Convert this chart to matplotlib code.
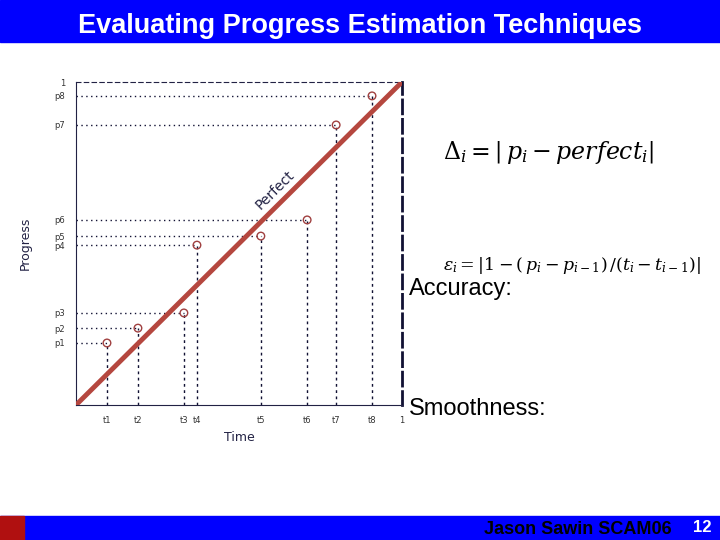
import matplotlib
matplotlib.use("Agg")
import matplotlib.pyplot as plt
from matplotlib.patches import Rectangle

times = [0.095, 0.19, 0.331, 0.371, 0.567, 0.709, 0.798, 0.908]
progress = [0.192, 0.238, 0.285, 0.495, 0.523, 0.573, 0.867, 0.957]
t_labels = ["t1", "t2", "t3", "t4", "t5", "t6", "t7", "t8"]
p_labels = ["p1", "p2", "p3", "p4", "p5", "p6", "p7", "p8"]

plt.rcParams['mathtext.fontset'] = 'dejavuserif'
fig = plt.figure(figsize=(7.2, 5.4), dpi=100)
fig.patch.set_facecolor("white")
blue = "#0000ff"
fig.patches.append(Rectangle((0, 1 - 42/540), 1, 42/540, transform=fig.transFigure, color=blue, zorder=0))
fig.patches.append(Rectangle((0, 0), 1, 24/540, transform=fig.transFigure, color=blue, zorder=0))
fig.patches.append(Rectangle((0, 0), 24/720, 24/540, transform=fig.transFigure, color="#b01010", zorder=1))
fig.text(0.5, 1 - 26/540, "Evaluating Progress Estimation Techniques", ha="center", va="center",
         color="white", fontsize=19.5, fontweight="bold", family="Liberation Sans")
fig.text(0.672, 10/540, "Jason Sawin SCAM06", ha="left", va="center", color="black",
         fontsize=13, fontweight="bold", family="Liberation Sans")
fig.text(0.963, 12/540, "12", ha="left", va="center", color="white",
         fontsize=12, fontweight="bold", family="Liberation Sans")

ax = fig.add_axes([76/720, 1 - 405/540, 326/720, 323/540])
ax.set_xlim(0, 1)
ax.set_ylim(0, 1)
ax.plot([0, 1], [0, 1], color="#b5473f", lw=3.5, zorder=3)
for t, p in zip(times, progress):
    ax.plot([0, t], [p, p], ls=(0, (1, 2.5)), color="#111133", lw=1)
    ax.plot([t, t], [0, p], ls=(0, (2, 2.5)), color="#111133", lw=1)
ax.scatter(times, progress, s=30, facecolors="none", edgecolors="#a04040", lw=1, zorder=4)
ax.text(0.61, 0.665, "Perfect", rotation=45, fontsize=10, color="#222244", ha="center", va="center")
ax.set_xticks(times + [1])
ax.set_xticklabels(t_labels + ["1"], fontsize=6, color="#333333")
ax.set_yticks(progress + [1])
ax.set_yticklabels(p_labels + ["1"], fontsize=6, color="#333333")
ax.tick_params(length=0, pad=8)
for s in ["left", "bottom"]:
    ax.spines[s].set_color("#222244")
ax.spines["top"].set_linestyle((0, (4, 3)))
ax.spines["top"].set_color("#222244")
ax.spines["right"].set_linestyle((0, (5, 2)))
ax.spines["right"].set_linewidth(2)
ax.spines["right"].set_color("#111133")
ax.set_xlabel("Time", fontsize=9, color="#222244")
ax.set_ylabel("Progress", fontsize=9, color="#222244", labelpad=16)

fig.text(0.615, 1 - 153/540, r"$\Delta_i = \left|\,p_i - perfect_i\right|$", fontsize=17, va="center")
fig.text(0.615, 1 - 266/540, r"$\epsilon_i = \left|1-(\,p_i - p_{i-1})\,/(t_i - t_{i-1})\right|$", fontsize=12.5, va="center")
fig.text(0.568, 1 - 289/540, "Accuracy:", fontsize=17, va="center", family="Liberation Sans")
fig.text(0.568, 1 - 409/540, "Smoothness:", fontsize=17, va="center", family="Liberation Sans")

fig.savefig("out.png", dpi=100)
